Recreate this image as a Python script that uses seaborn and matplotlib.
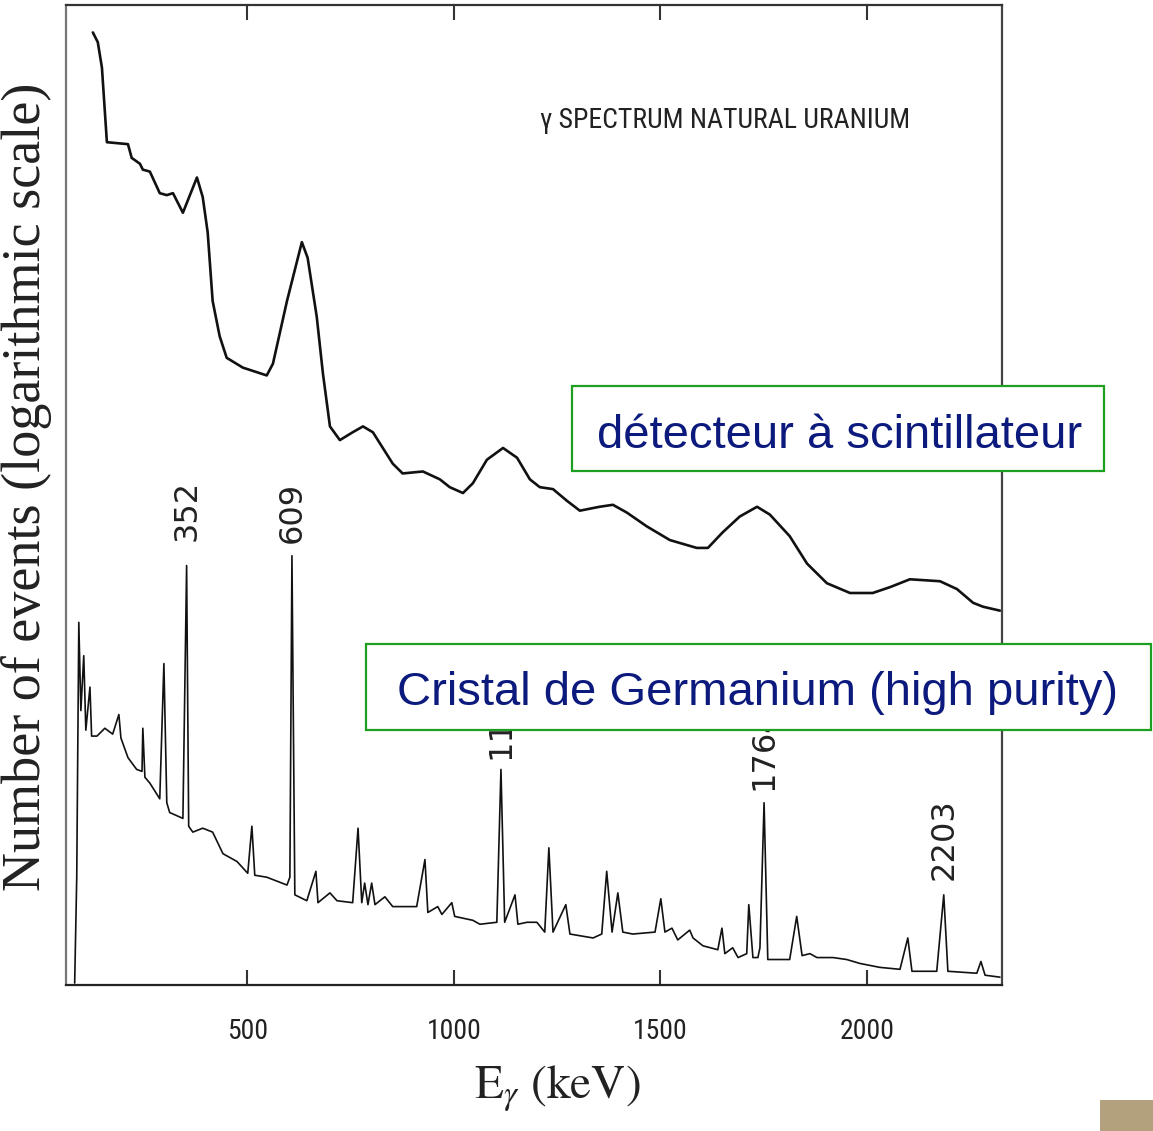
import numpy as np
import pandas as pd
import matplotlib
matplotlib.use("Agg")
import matplotlib.pyplot as plt
from matplotlib import font_manager
from matplotlib.patches import Rectangle
from matplotlib.ticker import NullLocator
import seaborn as sns

# ---------------- data (energy in keV, level in decades of counts) ----------------
scint_energy = [126, 138, 148, 160, 211, 220, 240, 247, 264, 288, 305, 320, 344, 378,
                392, 404, 416, 433, 450, 489, 547, 562, 596, 632, 646, 668, 683, 700,
                724, 755, 780, 804, 852, 876, 925, 966, 990, 1022, 1046, 1080, 1119,
                1153, 1184, 1208, 1240, 1274, 1305, 1353, 1385, 1419, 1467, 1523, 1588,
                1615, 1651, 1692, 1734, 1765, 1813, 1855, 1903, 1959, 2014, 2056, 2104,
                2177, 2218, 2257, 2281, 2322]
scint_level = [4.86, 4.81, 4.68, 4.30, 4.29, 4.22, 4.19, 4.16, 4.15, 4.04, 4.03, 4.04,
               3.94, 4.12, 4.02, 3.84, 3.49, 3.31, 3.20, 3.15, 3.11, 3.17, 3.49, 3.79,
               3.71, 3.41, 3.12, 2.85, 2.78, 2.82, 2.85, 2.82, 2.66, 2.61, 2.62, 2.58,
               2.54, 2.51, 2.56, 2.68, 2.74, 2.69, 2.58, 2.54, 2.53, 2.47, 2.42, 2.44,
               2.45, 2.41, 2.34, 2.27, 2.23, 2.23, 2.31, 2.39, 2.44, 2.40, 2.29, 2.15,
               2.05, 2.00, 2.00, 2.03, 2.07, 2.06, 2.02, 1.95, 1.93, 1.91]

ge_energy = [82, 87, 92, 97, 104, 109, 119, 123, 136, 155, 174, 189, 194, 211, 232, 245,
             247, 252, 264, 288, 298, 305, 312, 344, 353, 358, 368, 392, 416, 441, 475,
             501, 511, 518, 547, 596, 603, 608, 615, 644, 666, 671, 700, 717, 755, 768,
             777, 784, 792, 801, 809, 833, 852, 910, 930, 937, 961, 971, 995, 1002, 1046,
             1063, 1104, 1114, 1123, 1148, 1155, 1177, 1201, 1220, 1230, 1240, 1271, 1281,
             1337, 1358, 1370, 1383, 1397, 1409, 1433, 1487, 1501, 1511, 1528, 1542, 1571,
             1579, 1603, 1639, 1649, 1656, 1675, 1688, 1709, 1714, 1724, 1736, 1741, 1751,
             1760, 1813, 1830, 1843, 1862, 1879, 1918, 1951, 1983, 2031, 2080, 2099, 2109,
             2169, 2186, 2196, 2266, 2276, 2286, 2322]
ge_level = [0.01, 0.55, 1.85, 1.40, 1.68, 1.30, 1.52, 1.27, 1.27, 1.31, 1.28, 1.38, 1.26,
            1.16, 1.10, 1.09, 1.31, 1.06, 1.03, 0.95, 1.64, 0.93, 0.88, 0.85, 2.14, 0.81,
            0.78, 0.80, 0.78, 0.67, 0.63, 0.57, 0.81, 0.56, 0.55, 0.51, 0.55, 2.19, 0.46,
            0.43, 0.58, 0.42, 0.47, 0.43, 0.42, 0.80, 0.42, 0.52, 0.41, 0.52, 0.41, 0.45,
            0.40, 0.40, 0.64, 0.37, 0.40, 0.36, 0.42, 0.35, 0.33, 0.31, 0.32, 1.10, 0.32,
            0.46, 0.31, 0.32, 0.32, 0.27, 0.70, 0.27, 0.41, 0.26, 0.24, 0.26, 0.58, 0.27,
            0.47, 0.27, 0.26, 0.27, 0.44, 0.27, 0.29, 0.23, 0.28, 0.24, 0.20, 0.18, 0.29,
            0.16, 0.19, 0.14, 0.16, 0.41, 0.14, 0.14, 0.19, 0.93, 0.13, 0.13, 0.35, 0.15,
            0.16, 0.14, 0.14, 0.13, 0.11, 0.09, 0.08, 0.24, 0.07, 0.07, 0.46, 0.07, 0.06,
            0.12, 0.05, 0.04]

peak_labels = ["352", "609", "1120", "1764", "2203"]
x_ticks = [500, 1000, 1500, 2000]
x_tick_labels = ["500", "1000", "1500", "2000"]

# ---------------- style ----------------
sns.set_theme(style="white")
plt.rcParams["font.family"] = ["DejaVu Sans"]
plt.rcParams["mathtext.fontset"] = "stix"

available = {f.name for f in font_manager.fontManager.ttflist}
narrow = next((f for f in ["Liberation Sans Narrow", "DejaVu Sans Condensed", "Roboto Condensed"]
               if f in available), "DejaVu Sans")
narrow_is_real = narrow != "DejaVu Sans"

W, H = 1153, 1131
fig = plt.figure(figsize=(W / 100, H / 100), dpi=100)
fig.patch.set_facecolor("white")
ax = fig.add_axes([66 / W, 1 - 985 / H, (1002 - 66) / W, (985 - 5) / H])

df_s = pd.DataFrame({"E": scint_energy, "counts": 10 ** np.array(scint_level)})
df_g = pd.DataFrame({"E": ge_energy, "counts": 10 ** np.array(ge_level)})
sns.lineplot(data=df_s, x="E", y="counts", ax=ax, color="#111111", lw=1.9,
             sort=False, estimator=None)
sns.lineplot(data=df_g, x="E", y="counts", ax=ax, color="#111111", lw=1.2,
             sort=False, estimator=None)

ax.set_yscale("log")
ax.set_ylim(1, 1e5)
ax.set_xlim(61, 2327)
ax.set_yticks([])
ax.yaxis.set_minor_locator(NullLocator())
ax.set_xticks(x_ticks)
ax.set_xticklabels(x_tick_labels, fontfamily=[narrow, "DejaVu Sans"],
                   fontsize=20 if narrow_is_real else 16.5, color="#222222")
ax.tick_params(axis="x", direction="in", length=11, width=1.5, top=True, bottom=True,
               pad=24, color="#333333")
for side, c in [("left", "#777777"), ("right", "#444444"), ("top", "#333333"), ("bottom", "#222222")]:
    ax.spines[side].set_color(c)
    ax.spines[side].set_linewidth(1.6)

ax.set_xlabel(r"$\mathrm{E}_{\gamma}\ \mathrm{(keV)}$", fontsize=34, color="#222222")
ax.xaxis.set_label_coords((557 - 66) / 936, -(1064 - 985) / 980)
ax.set_ylabel("Number of events (logarithmic scale)", fontfamily=["Liberation Serif", "DejaVu Serif"],
              fontsize=39, color="#222222")
ax.yaxis.set_label_coords((52 - 66) / 936, (985 - 487) / 980)

ax.text((540 - 66) / 936, (985 - 120) / 980, "γ SPECTRUM NATURAL URANIUM", transform=ax.transAxes,
        fontfamily=[narrow, "DejaVu Sans"], fontsize=20 if narrow_is_real else 16.5,
        color="#222222", ha="left", va="center")

# peak labels at the apex of each labelled line
offsets_pt = [18, 9.4, 7.2, 9.4, 10.8]
ge_E = np.array(ge_energy)
ge_L = np.array(ge_level)
for lab, off in zip(peak_labels, offsets_pt):
    e0 = float(lab)
    m = np.abs(ge_E - e0) < 30
    i = np.flatnonzero(m)[np.argmax(ge_L[m])]
    ax.annotate(lab, xy=(ge_E[i], 10 ** ge_L[i]), xytext=(0, off), textcoords="offset points",
                rotation=90, ha="center", va="bottom", fontsize=23, color="#222222",
                fontfamily="DejaVu Sans")

# green annotation boxes
green = "#1f9f1f"
navy = "#0b1a7c"
fig.add_artist(Rectangle((572 / W, 1 - 471 / H), 532 / W, 85 / H, transform=fig.transFigure,
                         facecolor="white", edgecolor=green, lw=1.6, zorder=10))
fig.text(597 / W, 1 - 448 / H, "détecteur à scintillateur", fontfamily="Liberation Sans",
         fontsize=34, color=navy, ha="left", va="baseline", zorder=11)
fig.add_artist(Rectangle((366 / W, 1 - 730 / H), 785 / W, 86 / H, transform=fig.transFigure,
                         facecolor="white", edgecolor=green, lw=1.6, zorder=10))
fig.text(397 / W, 1 - 705 / H, "Cristal de Germanium (high purity)", fontfamily="Liberation Sans",
         fontsize=34, color=navy, ha="left", va="baseline", zorder=11)

# small tan square in the corner
fig.add_artist(Rectangle((1100 / W, 0), 53 / W, 31 / H, transform=fig.transFigure,
                         facecolor="#b3a07c", edgecolor="none", zorder=10))

fig.savefig("out.png", dpi=100)
